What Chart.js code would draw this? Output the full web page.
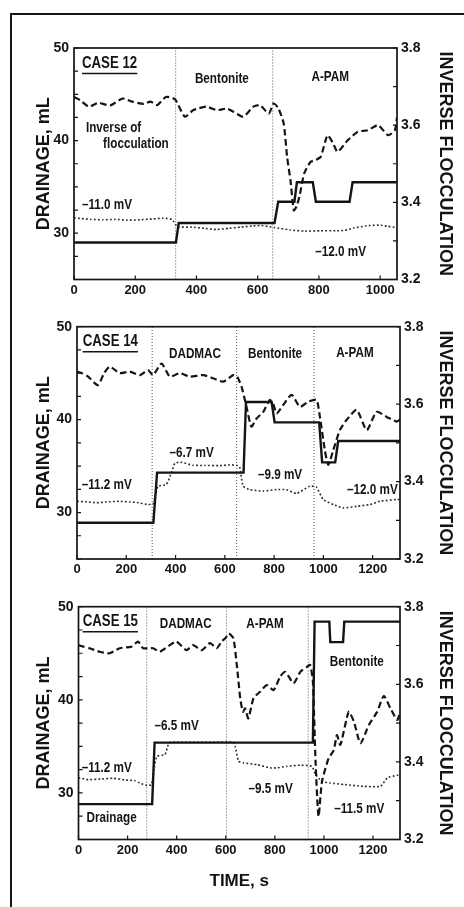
<!DOCTYPE html>
<html>
<head>
<meta charset="utf-8">
<title>Drainage and inverse flocculation vs time</title>
<script src="https://cdn.jsdelivr.net/npm/chart.js@4/dist/chart.umd.min.js"></script>
<style>
  html, body { margin: 0; padding: 0; background: #ffffff; }
  body { width: 464px; height: 907px; position: relative; overflow: hidden; }
  .frame { position: absolute; left: 10px; top: 13px; width: 480px; height: 920px;
           border-top: 2px solid #161616; border-left: 2px solid #161616; }
  canvas { position: absolute; left: 0; }
</style>
</head>
<body>
<div class="frame"></div>
<canvas id="case12" width="464" height="305" style="top:0px"></canvas>
<canvas id="case14" width="464" height="280" style="top:305px"></canvas>
<canvas id="case15" width="464" height="322" style="top:585px"></canvas>

<script>
// ---------- shared axis ticks ----------
const drainageTicks = [25, 27.5, 30, 32.5, 35, 37.5, 40, 42.5, 45, 47.5, 50];
const drainageLabels = [30, 40, 50];
const inverseTicks = [3.2, 3.3, 3.4, 3.5, 3.6, 3.7, 3.8];
const inverseLabels = [3.2, 3.4, 3.6, 3.8];
const timeTicks12 = [0, 200, 400, 600, 800, 1000];
const timeTicks = [0, 200, 400, 600, 800, 1000, 1200];

// ---------- CASE 12 : [time s, value] ----------
const c12Drainage = [[0,29.0],[333,29.0],[342,31.1],[655,31.1],[667,33.4],[720,33.4],[728,35.5],[780,35.5],[790,33.4],[900,33.4],[910,35.5],[1055,35.5]];
const c12Inverse = [[0,3.673],[20,3.665],[48,3.648],[80,3.658],[118,3.651],[158,3.669],[190,3.661],[228,3.655],[250,3.661],[272,3.652],[300,3.673],[330,3.667],[362,3.622],[390,3.639],[432,3.648],[466,3.639],[500,3.643],[520,3.635],[553,3.622],[586,3.648],[608,3.652],[636,3.630],[652,3.656],[668,3.643],[685,3.604],[696,3.518],[707,3.457],[718,3.379],[727,3.39],[736,3.414],[752,3.475],[773,3.505],[790,3.51],[806,3.518],[828,3.574],[845,3.555],[861,3.531],[894,3.561],[927,3.583],[960,3.587],[993,3.600],[1026,3.574],[1048,3.587],[1055,3.62]];
const c12Zeta = [[0,-10.9],[25,-11.0],[55,-11.1],[95,-11.15],[135,-11.1],[175,-11.2],[215,-11.15],[255,-11.05],[290,-10.95],[320,-11.1],[338,-12.0],[385,-12.05],[425,-12.2],[465,-12.35],[505,-12.2],[545,-12.05],[585,-11.9],[612,-11.85],[655,-12.1],[705,-12.4],[755,-12.55],[805,-12.5],[855,-12.5],[885,-12.45],[915,-12.15],[955,-11.9],[995,-11.8],[1025,-11.95],[1055,-12.1]];
const c12Phases = [332, 649];

// ---------- CASE 14 ----------
const c14Drainage = [[0,28.9],[310,28.9],[325,34.3],[676,34.3],[686,41.9],[790,41.9],[802,39.7],[983,39.7],[995,35.4],[1048,35.4],[1060,37.7],[1311,37.7]];
const c14Inverse = [[0,3.684],[20,3.68],[45,3.671],[85,3.649],[110,3.68],[133,3.697],[173,3.680],[214,3.684],[255,3.675],[288,3.688],[309,3.675],[343,3.705],[377,3.671],[417,3.680],[458,3.671],[512,3.675],[552,3.667],[593,3.658],[634,3.675],[650,3.671],[668,3.645],[688,3.593],[708,3.542],[729,3.563],[756,3.580],[783,3.611],[797,3.60],[810,3.576],[837,3.598],[871,3.624],[905,3.593],[938,3.606],[972,3.611],[986,3.567],[1006,3.481],[1020,3.443],[1040,3.481],[1067,3.533],[1094,3.559],[1135,3.585],[1176,3.533],[1216,3.580],[1257,3.567],[1297,3.555],[1311,3.56]];
const c14Zeta = [[0,-11.42],[40,-11.5],[80,-11.6],[120,-11.5],[170,-11.42],[215,-11.5],[250,-11.6],[288,-11.82],[309,-11.7],[320,-10.5],[329,-9.56],[363,-9.36],[383,-7.91],[397,-6.77],[420,-6.61],[470,-7.0],[520,-7.02],[580,-7.05],[620,-6.95],[647,-7.0],[660,-7.2],[674,-9.56],[701,-9.98],[756,-10.17],[810,-9.98],[850,-10.0],[891,-10.47],[945,-9.56],[972,-9.7],[999,-11.2],[1040,-11.82],[1080,-12.23],[1135,-12.04],[1189,-11.82],[1229,-11.42],[1297,-11.2],[1311,-11.2]];
const c14Phases = [305, 648, 962];

// ---------- CASE 15 ----------
const c15Drainage = [[0,28.8],[300,28.8],[310,35.4],[955,35.4],[962,48.4],[1022,48.4],[1026,46.2],[1078,46.2],[1083,48.4],[1310,48.4]];
const c15Inverse = [[0,3.701],[20,3.697],[45,3.693],[86,3.684],[127,3.680],[168,3.693],[215,3.697],[243,3.710],[263,3.693],[304,3.693],[331,3.684],[372,3.701],[399,3.710],[440,3.688],[467,3.701],[502,3.688],[536,3.706],[563,3.693],[583,3.710],[600,3.72],[612,3.731],[631,3.719],[645,3.650],[659,3.564],[670,3.529],[679,3.538],[692,3.512],[713,3.564],[740,3.581],[767,3.598],[795,3.585],[822,3.620],[843,3.632],[876,3.603],[904,3.632],[931,3.645],[944,3.650],[955,3.607],[966,3.40],[978,3.259],[992,3.349],[1019,3.409],[1040,3.43],[1053,3.469],[1067,3.444],[1101,3.529],[1122,3.504],[1149,3.448],[1183,3.495],[1217,3.529],[1244,3.570],[1271,3.538],[1299,3.508],[1310,3.53]];
const c15Zeta = [[0,-10.96],[40,-11.17],[90,-11.1],[140,-11.0],[190,-11.2],[230,-11.3],[249,-11.58],[277,-11.87],[297,-11.8],[310,-9.5],[320,-8.3],[352,-8.1],[366,-6.87],[375,-6.6],[450,-6.6],[540,-6.6],[630,-6.6],[638,-7.08],[652,-8.92],[672,-9.12],[727,-9.33],[781,-9.73],[808,-9.73],[849,-9.54],[904,-9.4],[951,-9.54],[965,-10.5],[992,-11.38],[1026,-11.58],[1081,-11.77],[1163,-11.99],[1231,-11.99],[1258,-10.96],[1299,-10.64],[1310,-10.6]];
const c15Phases = [278, 603, 936];

// ---------- text placed in data units (time s, drainage mL) ----------
const c12Notes = [
  { text: 'CASE 12', t: 26, v: 48.35, align: 'left', size: 17, underline: true },
  { text: 'Bentonite', t: 483, v: 46.7 },
  { text: 'A-PAM', t: 837, v: 46.9 },
  { text: 'Inverse of', t: 39, v: 41.4, align: 'left' },
  { text: 'flocculation', t: 95, v: 39.7, align: 'left' },
  { text: '\u201311.0 mV', t: 26, v: 33.05, align: 'left' },
  { text: '\u201312.0 mV', t: 788, v: 28.0, align: 'left' }
];
const c14Notes = [
  { text: 'CASE 14', t: 23, v: 48.4, align: 'left', size: 17, underline: true },
  { text: 'DADMAC', t: 479, v: 47.1 },
  { text: 'Bentonite', t: 804, v: 47.1 },
  { text: 'A-PAM', t: 1128, v: 47.2 },
  { text: '\u20136.7 mV', t: 465, v: 36.45 },
  { text: '\u201311.2 mV', t: 19, v: 33.0, align: 'left' },
  { text: '\u20139.9 mV', t: 824, v: 34.05 },
  { text: '\u201312.0 mV', t: 1199, v: 32.4 }
];
const c15Notes = [
  { text: 'CASE 15', t: 17, v: 48.4, align: 'left', size: 17, underline: true },
  { text: 'DADMAC', t: 437, v: 48.2 },
  { text: 'A-PAM', t: 760, v: 48.2 },
  { text: 'Bentonite', t: 1134, v: 44.1 },
  { text: '\u20136.5 mV', t: 400, v: 37.2 },
  { text: '\u201311.2 mV', t: 13, v: 32.65, align: 'left' },
  { text: '\u20139.5 mV', t: 783, v: 30.4 },
  { text: '\u201311.5 mV', t: 1144, v: 28.25 },
  { text: 'Drainage', t: 135, v: 27.3 }
];

const FONT = "'Liberation Sans', Arial, sans-serif";
const INK = '#141414';
const NARROW = 0.78;   // horizontal squeeze for the in-plot captions

const toXY = pairs => pairs.map(p => ({ x: p[0], y: p[1] }));

// Plot box, inward tick marks and in-plot captions
const decorPlugin = {
  id: 'decor',
  afterDatasetsDraw(chart, args, opts) {
    const { ctx, chartArea: a, scales } = chart;
    ctx.save();
    ctx.strokeStyle = INK;
    ctx.lineWidth = 1.7;
    ctx.strokeRect(a.left, a.top, a.right - a.left, a.bottom - a.top);
    ctx.lineWidth = 1.2;
    ctx.beginPath();
    scales.x.ticks.forEach(tk => {
      const x = scales.x.getPixelForValue(tk.value);
      ctx.moveTo(x, a.bottom); ctx.lineTo(x, a.bottom - 4);
    });
    scales.y.ticks.forEach(tk => {
      const y = scales.y.getPixelForValue(tk.value);
      ctx.moveTo(a.left, y); ctx.lineTo(a.left + 4, y);
    });
    scales.y2.ticks.forEach(tk => {
      const y = scales.y2.getPixelForValue(tk.value);
      ctx.moveTo(a.right, y); ctx.lineTo(a.right - 4, y);
    });
    ctx.stroke();

    ctx.fillStyle = INK;
    ctx.textBaseline = 'middle';
    (opts.notes || []).forEach(n => {
      const size = n.size || 15;
      const align = n.align || 'center';
      ctx.font = 'bold ' + size + 'px ' + FONT;
      const x = scales.x.getPixelForValue(n.t);
      const y = scales.y.getPixelForValue(n.v);
      const w = ctx.measureText(n.text).width * NARROW;
      ctx.save();
      ctx.translate(x, y);
      ctx.scale(NARROW, 1);
      ctx.textAlign = align;
      ctx.fillText(n.text, 0, 0);
      ctx.restore();
      if (n.underline) {
        const x0 = align === 'left' ? x : x - w / 2;
        ctx.lineWidth = 1.6;
        ctx.beginPath();
        ctx.moveTo(x0, y + size * 0.6);
        ctx.lineTo(x0 + w, y + size * 0.6);
        ctx.stroke();
      }
    });
    ctx.restore();
  }
};

function makePanel(id, p) {
  const canvas = document.getElementById(id);
  const H = canvas.height, W = canvas.width;
  const datasets = [
    { label: 'Drainage', data: toXY(p.drainage), yAxisID: 'y', borderColor: INK,
      borderWidth: 2.4, pointRadius: 0, tension: 0, fill: false },
    { label: 'Inverse flocculation', data: toXY(p.inverse), yAxisID: 'y2', borderColor: INK,
      borderWidth: 2.2, borderDash: [6.5, 3.5], pointRadius: 0, tension: 0.2, fill: false },
    { label: 'Zeta potential', data: toXY(p.zeta), yAxisID: 'z', borderColor: '#2a2a2a',
      borderWidth: 1.6, borderDash: [1.8, 2.2], pointRadius: 0, tension: 0.15, fill: false }
  ];
  p.phases.forEach(t => datasets.push({
    label: 'addition', data: [{ x: t, y: 25 }, { x: t, y: 50 }], yAxisID: 'y',
    borderColor: '#555', borderWidth: 1, borderDash: [1, 2], pointRadius: 0, fill: false
  }));

  const tickFont = { family: FONT, size: 14, weight: 'bold' };
  return new Chart(canvas, {
    type: 'line',
    data: { datasets },
    plugins: [decorPlugin],
    options: {
      responsive: false, maintainAspectRatio: false, animation: false, events: [],
      layout: { padding: { left: 0, right: 0, top: p.area.top, bottom: 0 }, autoPadding: false },
      plugins: { legend: { display: false }, tooltip: { enabled: false }, decor: { notes: p.notes } },
      scales: {
        x: {
          type: 'linear', position: 'bottom', min: 0, max: p.timeMax,
          grid: { display: false, drawTicks: false }, border: { display: false },
          afterBuildTicks: s => { s.ticks = p.timeTicks.map(v => ({ value: v })); },
          ticks: { color: INK, font: { family: FONT, size: 13, weight: 'bold' }, padding: 3,
                   maxRotation: 0, autoSkip: false, callback: v => String(v) },
          title: { display: !!p.timeTitle, text: 'TIME, s', color: INK,
                   font: { family: FONT, size: 17, weight: 'bold' }, padding: { top: 0, bottom: 15 } },
          afterFit: s => { s.height = H - p.area.bottom; }
        },
        y: {
          type: 'linear', position: 'left', min: 25, max: 50,
          grid: { display: false, drawTicks: false }, border: { display: false },
          afterBuildTicks: s => { s.ticks = drainageTicks.map(v => ({ value: v })); },
          ticks: { color: INK, font: tickFont, padding: 5, autoSkip: false,
                   callback: v => drainageLabels.includes(v) ? String(v) : '' },
          title: { display: true, text: 'DRAINAGE, mL', color: INK,
                   font: { family: FONT, size: 18, weight: 'bold' }, padding: { top: 33, bottom: 0 } },
          afterFit: s => { s.width = p.area.left; }
        },
        y2: {
          type: 'linear', position: 'right', min: 3.2, max: 3.8,
          grid: { display: false, drawTicks: false }, border: { display: false },
          afterBuildTicks: s => { s.ticks = inverseTicks.map(v => ({ value: v })); },
          ticks: { color: INK, font: tickFont, padding: 4, autoSkip: false,
                   callback: v => inverseLabels.some(l => Math.abs(l - v) < 1e-6) ? v.toFixed(1) : '' },
          title: { display: true, text: 'INVERSE FLOCCULATION', color: INK,
                   font: { family: FONT, size: 18, weight: 'bold' }, padding: { top: 8, bottom: 0 } },
          afterFit: s => { s.width = W - p.area.right; }
        },
        z: { type: 'linear', display: false, min: -18.5, max: 10 }
      }
    }
  });
}

makePanel('case12', {
  area: { top: 48, bottom: 279.5, left: 74, right: 397 }, timeMax: 1055, timeTicks: timeTicks12,
  drainage: c12Drainage, inverse: c12Inverse, zeta: c12Zeta, phases: c12Phases, notes: c12Notes
});
makePanel('case14', {
  area: { top: 21.7, bottom: 254, left: 77, right: 400 }, timeMax: 1311, timeTicks: timeTicks,
  drainage: c14Drainage, inverse: c14Inverse, zeta: c14Zeta, phases: c14Phases, notes: c14Notes
});
makePanel('case15', {
  area: { top: 21.7, bottom: 254.5, left: 78.5, right: 400 }, timeMax: 1310, timeTicks: timeTicks,
  drainage: c15Drainage, inverse: c15Inverse, zeta: c15Zeta, phases: c15Phases, notes: c15Notes,
  timeTitle: true
});
</script>
</body>
</html>
